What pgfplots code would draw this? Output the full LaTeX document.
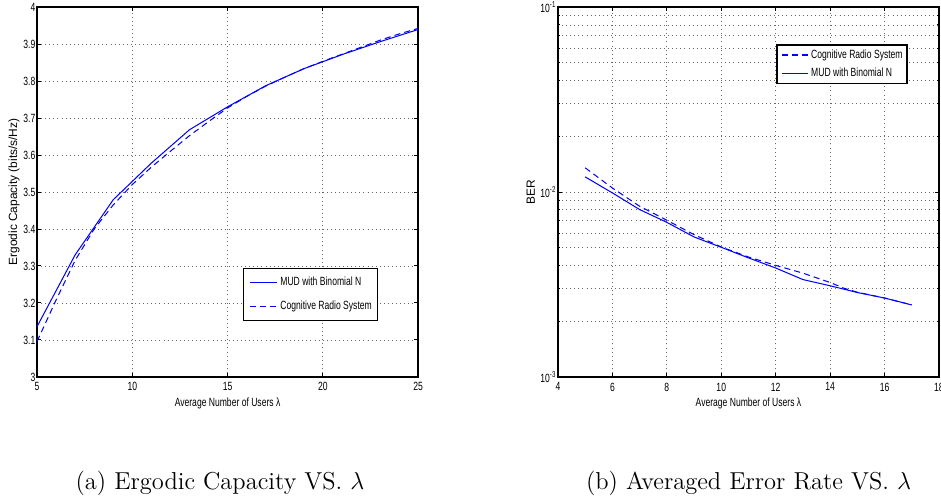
\documentclass[border=0pt]{standalone}
\usepackage{pgfplots}
\pgfplotsset{compat=1.18}
\usepackage{fontspec}
\newfontfamily\matfont[FakeStretch=0.72]{Liberation Sans}
\newfontfamily\matfontv{Liberation Sans}
\newcommand\tickfont{\matfont\fontsize{7}{8}\selectfont}

\pgfplotsset{
  matlab/.style={
    scale only axis, width=224.1pt, height=217.6pt, anchor=south west,
    axis line style={line width=0.8pt},
    tick style={black, line width=0.5pt},
    major tick length=2.5pt, minor tick length=1.4pt,
    tick align=inside,
    grid style={black!60, line width=0.45pt, dash pattern=on 0.5pt off 1.9pt},
    ticklabel style={font=\tickfont},
    /pgf/number format/assume math mode=true,
    xticklabel style={inner sep=0pt, yshift=-3.2pt},
    yticklabel style={inner sep=0pt, xshift=-0.8pt},
    xlabel style={font=\tickfont, inner sep=0pt,
      at={(axis description cs:0.5,-0.057)}, anchor=north},
    ylabel style={font=\matfontv\fontsize{7}{8}\selectfont, inner sep=0pt, anchor=center},
    legend style={draw=black, line width=0.8pt, fill=white, font=\tickfont,
      column sep=1.8pt, nodes={inner sep=0pt, text height=5pt, text depth=1.5pt}},
    legend cell align=left,
  },
  mud/.style={draw=blue, line width=0.6pt, solid},
  crs/.style={draw=blue, line width=0.6pt, dash pattern=on 3.6pt off 2.4pt},
}

\begin{document}
\begin{tikzpicture}
\useasboundingbox (0,0) rectangle (553.5pt,293.5pt);

% (a) ergodic capacity
\begin{axis}[matlab, at={(21.8pt,71.8pt)},
  xmin=5, xmax=25, ymin=3, ymax=4,
  xtick={5,10,15,20,25},
  ytick={3,3.1,3.2,3.3,3.4,3.5,3.6,3.7,3.8,3.9,4},
  xmajorgrids, ymajorgrids,
  xlabel={Average Number of Users λ},
  ylabel={Ergodic Capacity (bits/s/Hz)},
  ylabel style={at={(axis description cs:-0.0607,0.5)}},
  legend image code/.code={\draw[#1, draw=blue] (0pt,0pt) -- (16pt,0pt);},
  legend style={at={(0.8956,0.2955)}, anchor=north east,
    inner xsep=3.4pt, inner ysep=5.2pt, row sep=7.5pt},
]
\addplot[mud] coordinates {
  (5,3.136) (7,3.330) (9,3.479) (11,3.578) (13,3.668) (15,3.730)
  (17,3.787) (19,3.833) (21,3.871) (23,3.906) (25,3.939)
};
\addlegendentry{MUD with Binomial N}
\addplot[crs] coordinates {
  (5,3.096) (6,3.208) (7,3.315) (8,3.400) (9,3.465) (10,3.520)
  (11,3.567) (12,3.610) (13,3.652) (14,3.690) (15,3.727) (16,3.758)
  (17,3.786) (18,3.810) (19,3.833) (20,3.853) (21,3.872) (22,3.891)
  (23,3.910) (24,3.927) (25,3.942)
};
\addlegendentry{Cognitive Radio System}
\end{axis}

% (b) averaged error rate
\begin{axis}[matlab, at={(328.2pt,71.8pt)},
  ymode=log,
  xmin=4, xmax=18, ymin=1e-3, ymax=1e-1,
  xtick={4,6,8,10,12,14,16,18},
  ytick={1e-3,1e-2,1e-1},
  yticklabels={10\textsuperscript{-3},10\textsuperscript{-2},10\textsuperscript{-1}},
  xmajorgrids, ymajorgrids, yminorgrids,
  xlabel={Average Number of Users λ},
  ylabel={BER},
  ylabel style={at={(axis description cs:-0.0712,0.5)}},
  legend image code/.code={\draw[#1, draw=blue, line width=0.65pt] (0pt,0pt) -- (15pt,0pt);},
  legend style={at={(0.918,0.899)}, anchor=north east,
    inner xsep=2.6pt, inner ysep=2.65pt, row sep=4.3pt},
]
\addplot[crs] coordinates {
  (5,0.0135) (6,0.0105) (7,0.00837) (8,0.00703) (9,0.00588) (10,0.00504)
  (11,0.00445) (12,0.00401) (13,0.00364) (14,0.00324) (14.5,0.00302)
  (15,0.00287) (16,0.00267) (17,0.00245)
};
\addlegendentry{Cognitive Radio System}
\addplot[mud] coordinates {
  (5,0.01206) (6,0.00988) (7,0.00803) (8,0.00685) (9,0.00571) (10,0.00502)
  (11,0.00440) (12,0.00388) (13,0.00336) (14,0.00311) (15,0.00286)
  (16,0.00267) (17,0.00245)
};
\addlegendentry{MUD with Binomial N}
\end{axis}

\node[anchor=base, font=\fontsize{14.4}{17}\selectfont] at (129.4pt,5.3pt)
  {(a) Ergodic Capacity VS. $\lambda$};
\node[anchor=base, font=\fontsize{14.4}{17}\selectfont] at (440.3pt,5.3pt)
  {(b) Averaged Error Rate VS. $\lambda$};
\end{tikzpicture}
\end{document}
